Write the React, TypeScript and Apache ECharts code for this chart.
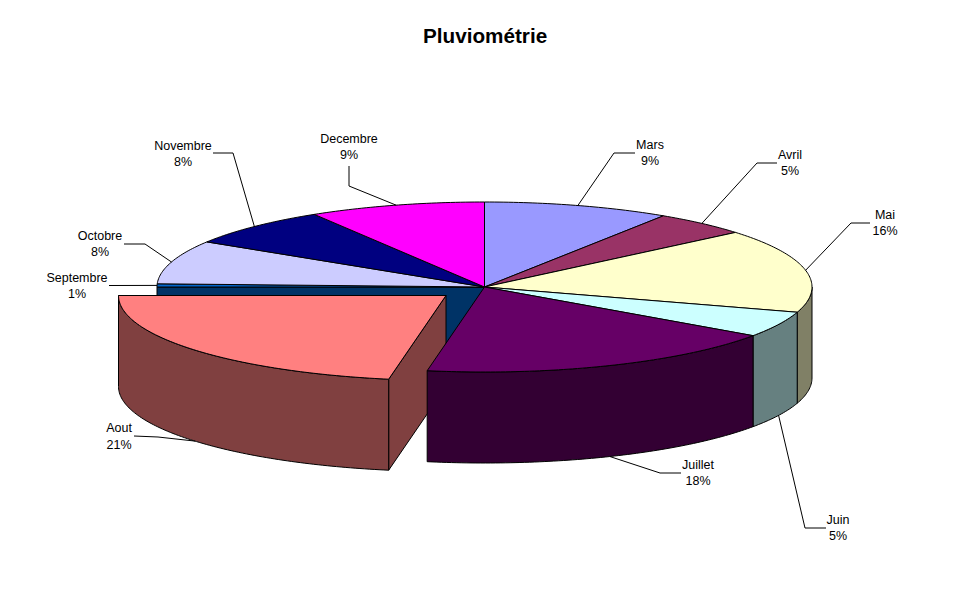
import React, { useEffect, useRef } from "react";
import * as echarts from "echarts";

const titleText = "Pluviométrie";
const months = ["Mars", "Avril", "Mai", "Juin", "Juillet", "Aout", "Septembre", "Octobre", "Novembre", "Decembre"];
const shares = [9.2, 4.7, 15.9, 4.9, 18.1, 22.2, 0.6, 8.3, 7.4, 8.7];
const percentLabels = ["9%", "5%", "16%", "5%", "18%", "21%", "1%", "8%", "8%", "9%"];
const topColors = ["#9999FF", "#993366", "#FFFFCC", "#CCFFFF", "#660066", "#FF8080", "#0066CC", "#CCCCFF", "#000080", "#FF00FF"];
const sideColors = ["#4D4D80", "#4D1A33", "#808066", "#668080", "#330033", "#804040", "#003366", "#666680", "#000040", "#800080"];
const drawOrder = [6, 7, 8, 9, 0, 1, 2, 5, 3, 4];

// Layout of the projected pie
const CX = 484.5;
const CY = 287;
const RX = 327.5;
const RY = 85;
const DEPTH = 91;
const EXPLODED = 5;
const EXPLODE_DX = -38.5;
const EXPLODE_DY = 8.5;

// Label layout: text centre, first line y, leader elbow and leader end
const labelX = [650, 790, 885, 838, 698, 119, 77, 100, 183, 349];
const labelY = [144.5, 154.5, 214.5, 519.5, 464.5, 428, 277.5, 235.5, 145.5, 138.5];
const leaderElbows: number[][][] = [
  [[614, 153], [635, 153]],
  [[757, 163], [777, 163]],
  [[851, 223], [870, 223]],
  [[805, 528], [826, 528]],
  [[660, 473], [681, 473]],
  [[158, 437], [134, 436]],
  [[109, 285.5]],
  [[145, 244], [124, 244]],
  [[233, 153], [213, 153]],
  [[349, 186], [349, 166]],
];
const LINE_HEIGHT = 16.8;

const total = shares.reduce((a, b) => a + b, 0);
const starts = shares.map((_, i) => shares.slice(0, i).reduce((a, b) => a + b, 0) / total * Math.PI * 2);
const ends = shares.map((_, i) => shares.slice(0, i + 1).reduce((a, b) => a + b, 0) / total * Math.PI * 2);

function rim(t: number, dx: number, dy: number, down = 0): number[] {
  return [CX + dx + RX * Math.sin(t), CY + dy - RY * Math.cos(t) + down];
}

function arc(a: number, b: number, dx: number, dy: number, down = 0): number[][] {
  const n = Math.max(2, Math.ceil(Math.abs(b - a) / 0.015));
  const pts: number[][] = [];
  for (let k = 0; k <= n; k++) pts.push(rim(a + ((b - a) * k) / n, dx, dy, down));
  return pts;
}

const outline = { stroke: "#000", lineWidth: 1, lineJoin: "miter" };

function renderSlice(_params: any, api: any) {
  const i = api.value(0) as number;
  const a = starts[i];
  const b = ends[i];
  const mid = (a + b) / 2;
  const exploded = i === EXPLODED;
  const dx = exploded ? EXPLODE_DX : 0;
  const dy = exploded ? EXPLODE_DY : 0;
  const centre = [CX + dx, CY + dy];
  const children: any[] = [];

  if (i === 6) {
    // Cut wall left open by the pulled-out slice
    const p = rim(a, 0, 0);
    children.push({
      type: "polygon",
      shape: { points: [[CX, CY], p, [p[0], p[1] + DEPTH], [CX, CY + DEPTH]] },
      style: { fill: sideColors[i], ...outline },
    });
  }
  if (exploded) {
    const p = rim(a, dx, dy);
    children.push({
      type: "polygon",
      shape: { points: [centre, p, [p[0], p[1] + DEPTH], [centre[0], centre[1] + DEPTH]] },
      style: { fill: sideColors[i], ...outline },
    });
  }
  const sa = Math.max(a, Math.PI / 2);
  const sb = Math.min(b, (Math.PI * 3) / 2);
  if (sb > sa) {
    children.push({
      type: "polygon",
      shape: { points: [...arc(sa, sb, dx, dy), ...arc(sb, sa, dx, dy, DEPTH)] },
      style: { fill: sideColors[i], ...outline },
    });
  }
  children.push({
    type: "polygon",
    shape: { points: [centre, ...arc(a, b, dx, dy)] },
    style: { fill: topColors[i], ...outline },
  });

  const front = Math.cos(mid) < -0.15;
  const anchor = rim(mid, dx, dy, front ? DEPTH : 0);
  children.push({
    type: "polyline",
    shape: { points: [anchor, ...leaderElbows[i]] },
    style: { fill: "none", stroke: "#000", lineWidth: 1 },
  });
  [months[i], percentLabels[i]].forEach((line, k) => {
    children.push({
      type: "text",
      style: {
        text: line,
        x: labelX[i],
        y: labelY[i] + k * LINE_HEIGHT,
        textAlign: "center",
        textVerticalAlign: "middle",
        fontFamily: "Liberation Sans",
        fontSize: 12.5,
        fill: "#000",
      },
    });
  });
  return { type: "group", children };
}

export default function App() {
  const ref = useRef<HTMLDivElement>(null);
  useEffect(() => {
    const chart = echarts.init(ref.current!, undefined, { renderer: "svg" });
    chart.setOption({
      animation: false,
      backgroundColor: "#fff",
      title: {
        text: titleText,
        left: 423,
        top: 25,
        padding: 0,
        textStyle: { fontFamily: "Liberation Sans", fontSize: 20.7, fontWeight: "bold", color: "#000" },
      },
      series: [
        {
          type: "custom",
          coordinateSystem: "none",
          silent: true,
          renderItem: renderSlice,
          data: drawOrder.map((i) => [i, shares[i]]),
        },
      ],
    });
    return () => chart.dispose();
  }, []);
  return <div ref={ref} style={{ position: "fixed", left: 0, top: 0, width: 970, height: 604 }} />;
}
